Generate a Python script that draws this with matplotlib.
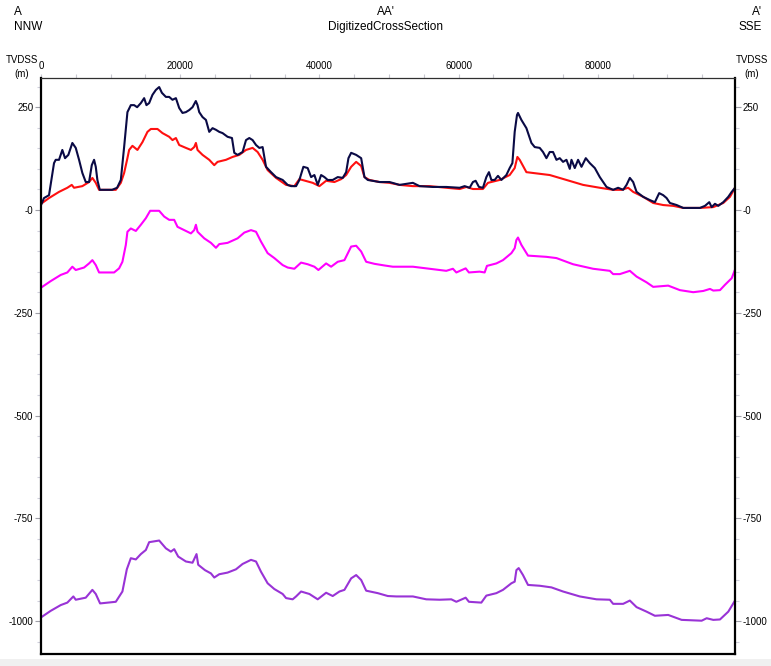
import matplotlib
matplotlib.use("Agg")
import matplotlib.pyplot as plt
from matplotlib.ticker import FixedLocator, FixedFormatter, MultipleLocator
from matplotlib.patches import Rectangle

plt.rcParams['font.family'] = ['Liberation Sans', 'DejaVu Sans']

# ---- data (distance in m, depth TVDSS in m) ----
top_x = [0, 432, 1151, 1871, 2115, 2590, 3065, 3454, 3929, 4504, 4993, 5468, 5943, 6432, 6907,
         7296, 7627, 7871, 8102, 8447, 10217, 10936, 11469, 11944, 12419, 12908, 13383, 13814,
         14347, 14822, 15153, 15541, 16016, 16506, 16980, 17369, 17944, 18419, 18894, 19383,
         19858, 20333, 20822, 21297, 21772, 22247, 22492, 22736, 23211, 23700, 24175, 24650,
         25139, 25614, 26089, 26809, 27442, 27773, 28248, 28967, 29457, 29931, 30406, 30896,
         31370, 31845, 32334, 33054, 33773, 34723, 35443, 35932, 36652, 37126, 37702, 38320,
         38810, 39285, 39760, 40249, 40724, 41199, 41918, 42638, 43357, 43847, 44178, 44566,
         45286, 46005, 46480, 46955, 48638, 50077, 51516, 53434, 54394, 56313, 58236, 60150,
         60870, 61589, 62064, 62453, 62928, 63503, 63993, 64367, 64712, 65187, 65662, 66152,
         66871, 67346, 67735, 68066, 68397, 68541, 69030, 69749, 70469, 70944, 71662, 72137,
         72626, 73101, 73576, 74066, 74540, 75015, 75505, 75979, 76224, 76699, 77174, 77663,
         78282, 78857, 79577, 80296, 81260, 82210, 82930, 83649, 84138, 84613, 85088, 85577,
         86527, 87491, 88210, 88829, 89405, 89894, 90369, 91333, 92283, 93722, 94686, 95405,
         96024, 96369, 96844, 97319, 98039, 98758, 99247, 99722]
top_y = [12, 29, 36, 114, 122, 122, 146, 126, 134, 163, 151, 122, 90, 68, 68,
         109, 122, 105, 73, 49, 49, 54, 73, 153, 238, 255, 255, 250,
         260, 272, 255, 260, 280, 292, 299, 285, 275, 275, 268, 272,
         248, 236, 238, 243, 250, 265, 255, 238, 226, 219, 190, 199,
         195, 190, 187, 178, 175, 139, 134, 141, 170, 175, 170, 158,
         151, 153, 105, 92, 80, 73, 61, 58, 58, 73, 105, 102,
         80, 85, 61, 85, 80, 73, 73, 80, 78, 92, 126, 139,
         134, 126, 80, 73, 68, 68, 61, 66, 58, 56, 56, 54,
         58, 54, 68, 71, 56, 54, 80, 92, 73, 73, 83, 73,
         85, 102, 114, 190, 231, 236, 219, 199, 163, 153, 151, 141,
         126, 141, 141, 122, 126, 117, 122, 100, 122, 102, 122, 105,
         126, 114, 102, 80, 56, 49, 54, 49, 61, 78, 68, 44,
         32, 24, 19, 41, 36, 29, 17, 12, 5, 5, 5, 10,
         19, 7, 15, 10, 19, 32, 44, 54]

red_x = [0, 1151, 2590, 3785, 4418, 4749, 5943, 6907, 7382, 7871, 8346, 10749, 11469, 11944,
         12419, 12663, 13138, 13857, 14577, 15297, 15786, 16736, 17455, 18419, 18894, 19383,
         19858, 20822, 21542, 22016, 22261, 22492, 23211, 24175, 24895, 25370, 26579, 27528,
         28492, 29457, 30406, 31126, 31845, 32565, 33773, 35212, 36407, 37126, 39040, 40004,
         40968, 42163, 43127, 43847, 44566, 45286, 46005, 46480, 47199, 48638, 50077, 51516,
         53434, 55832, 58236, 60150, 61113, 62064, 63503, 64223, 65906, 67346, 68066, 68454,
         68785, 69749, 70700, 73101, 75505, 77893, 80296, 82210, 83419, 84368, 85088, 86527,
         87966, 89405, 90844, 92283, 94686, 96600, 98039, 99002, 99722]
red_y = [15, 29, 44, 54, 61, 54, 58, 68, 78, 66, 49, 49, 66, 90,
         126, 146, 156, 146, 165, 190, 197, 197, 187, 178, 170, 175,
         158, 151, 146, 153, 163, 146, 134, 122, 109, 117, 122, 129,
         134, 146, 151, 141, 122, 97, 78, 61, 58, 75, 66, 58,
         71, 68, 75, 85, 105, 117, 107, 80, 73, 68, 66, 61,
         58, 58, 54, 51, 56, 51, 51, 66, 73, 85, 102, 129,
         122, 92, 90, 85, 73, 61, 54, 49, 49, 54, 44, 32,
         17, 12, 10, 5, 5, 7, 17, 32, 54]

mag_x = [0, 1396, 2835, 3785, 4504, 4993, 6188, 6907, 7382, 7871, 8346, 10505, 11224, 11699,
         12188, 12419, 12908, 13627, 14347, 15066, 15685, 16980, 17700, 18419, 19139, 19613,
         20578, 21542, 22016, 22261, 22492, 23456, 24420, 25139, 25614, 26809, 28248, 29212,
         30176, 30896, 31615, 32565, 33529, 34723, 35443, 36407, 37371, 38320, 39285, 39860,
         40968, 41687, 42638, 43602, 44566, 45286, 46005, 46725, 47919, 49358, 50552, 53434,
         55832, 58236, 59191, 59680, 61020, 61488, 63028, 63748, 64079, 65432, 66382, 67590,
         68066, 68310, 68541, 69030, 69979, 72626, 74066, 76455, 79333, 81735, 82210, 83174,
         84613, 85577, 87016, 87966, 90124, 91808, 93722, 95161, 96125, 96600, 97564, 98283,
         99247, 99722]
mag_y = [-189, -173, -158, -152, -138, -146, -140, -130, -122, -134, -152, -152, -142, -126,
         -85, -53, -45, -51, -36, -20, -2, -2, -16, -24, -24, -41,
         -49, -57, -49, -36, -53, -69, -80, -92, -83, -80, -69, -55,
         -49, -53, -77, -105, -117, -134, -140, -143, -128, -132, -138, -146,
         -130, -138, -126, -122, -89, -87, -101, -126, -131, -135, -138, -138,
         -143, -148, -143, -152, -142, -152, -150, -152, -136, -130, -122, -105,
         -93, -73, -67, -85, -111, -114, -117, -132, -143, -148, -156, -156,
         -148, -162, -176, -187, -184, -195, -200, -197, -192, -196, -195, -182,
         -166, -145]

pur_x = [0, 1396, 2835, 3785, 4648, 4993, 6432, 7382, 7871, 8490, 10749, 11699, 12332, 12908,
         13627, 14347, 15066, 15541, 16980, 17944, 18663, 19139, 19713, 20822, 21772, 22348,
         22592, 23556, 24420, 24895, 25614, 26809, 28017, 28967, 30176, 30896, 31615, 32565,
         33529, 34723, 35212, 36163, 36652, 37371, 38565, 39760, 40968, 41918, 42882, 43602,
         44566, 45286, 46005, 46725, 48394, 49833, 51041, 53434, 55357, 57272, 58955, 59680,
         61020, 61488, 63273, 63993, 65432, 66382, 67590, 68066, 68310, 68641, 69259, 69979,
         71662, 73346, 75015, 77418, 79822, 81735, 82210, 83649, 84613, 85577, 87016, 88210,
         90124, 92052, 94930, 95650, 96600, 97564, 98758, 99722]
pur_y = [-991, -975, -961, -955, -940, -948, -943, -924, -934, -957, -953, -928, -874, -847,
         -850, -837, -827, -808, -804, -823, -831, -825, -843, -855, -858, -837,
         -863, -876, -884, -894, -886, -882, -874, -861, -851, -855, -880, -908,
         -922, -934, -944, -947, -940, -928, -934, -947, -931, -939, -928, -924,
         -896, -888, -900, -926, -932, -939, -940, -940, -947, -948, -947, -953,
         -943, -953, -955, -938, -932, -924, -908, -904, -876, -871, -888, -912,
         -914, -918, -928, -940, -947, -948, -958, -958, -950, -966, -977, -987,
         -985, -997, -999, -993, -997, -996, -977, -950]

x_ticks = [0, 20000, 40000, 60000, 80000]
x_tick_labels = ["0", "20000", "40000", "60000", "80000"]
y_ticks = [-1000, -750, -500, -250, 0, 250]
y_tick_labels = ["-1000", "-750", "-500", "-250", "-0", "250"]

# ---- figure ----
fig = plt.figure(figsize=(7.71, 6.66), dpi=100)
ax = fig.add_axes([41 / 771, 1 - 654 / 666, (735 - 41) / 771, (654 - 78) / 666])

ax.plot(pur_x, pur_y, color="#9933d6", lw=1.5, solid_joinstyle="round")
ax.plot(mag_x, mag_y, color="#ff00ff", lw=1.5, solid_joinstyle="round")
ax.plot(red_x, red_y, color="#ff1010", lw=1.5, solid_joinstyle="round")
ax.plot(top_x, top_y, color="#0a0a45", lw=1.5, solid_joinstyle="round")

ax.set_xlim(0, 99722)
ax.set_ylim(-1080, 321)

# x axis at top
ax.xaxis.set_ticks_position("top")
ax.xaxis.set_major_locator(FixedLocator(x_ticks))
ax.xaxis.set_major_formatter(FixedFormatter(x_tick_labels))
ax.xaxis.set_minor_locator(MultipleLocator(5000))
ax.tick_params(axis="x", which="both", direction="out", length=3, width=0.8,
               color="#c8c8d0", labelsize=7, pad=2, top=True, bottom=False)

# y axis both sides
ax.yaxis.set_major_locator(FixedLocator(y_ticks))
ax.yaxis.set_major_formatter(FixedFormatter(y_tick_labels))
ax.yaxis.set_minor_locator(MultipleLocator(50))
ax.tick_params(axis="y", which="major", direction="out", length=4, width=0.8,
               color="#a0a0a8", labelsize=7, pad=1.5, left=True, right=True,
               labelleft=True, labelright=True)
ax.tick_params(axis="y", which="minor", direction="out", length=3, width=0.8,
               color="#d0d0dc", left=True, right=True)

for side in ["left", "right", "bottom"]:
    ax.spines[side].set_linewidth(1.6)
    ax.spines[side].set_color("black")
ax.spines["top"].set_linewidth(0.9)
ax.spines["top"].set_color("#303030")

# header texts
top_y_fig = 1 - 6 / 666
fig.text(14 / 771, top_y_fig, "A\nNNW", ha="left", va="top", fontsize=8.5, linespacing=1.35)
fig.text(762 / 771, top_y_fig, "A'\nSSE", ha="right", va="top", fontsize=8.5,
         linespacing=1.35, multialignment="right")
fig.text(0.5, top_y_fig, "AA'\nDigitizedCrossSection", ha="center", va="top",
         fontsize=8.5, linespacing=1.35, multialignment="center")

fig.text(22 / 771, 1 - 67 / 666, "TVDSS\n(m)", ha="center", va="center", fontsize=7,
         linespacing=1.4, multialignment="center")
fig.text(752 / 771, 1 - 67 / 666, "TVDSS\n(m)", ha="center", va="center", fontsize=7,
         linespacing=1.4, multialignment="center")

# bottom gray strip
fig.patches.append(Rectangle((0, 0), 1, 7 / 666, transform=fig.transFigure,
                             facecolor="#f0f0f0", edgecolor="none", zorder=0))

fig.savefig("out.png", dpi=100)
